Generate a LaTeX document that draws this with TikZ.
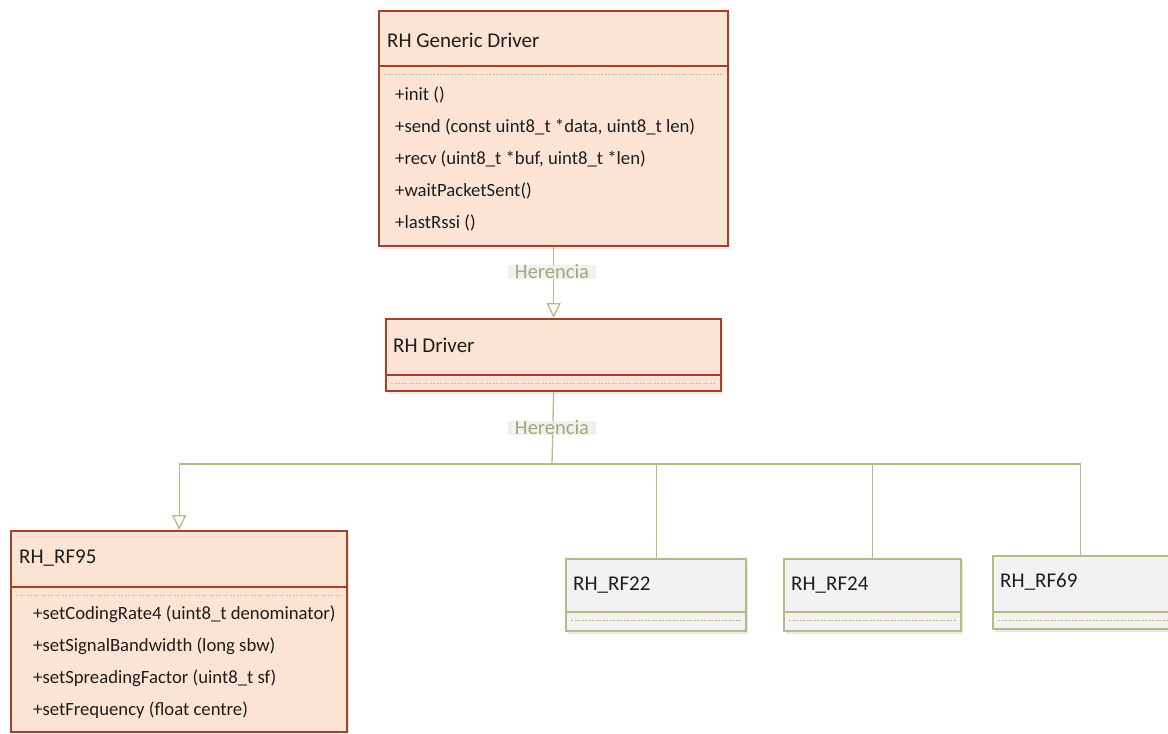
\documentclass[tikz,border=0pt]{standalone}
\usepackage{fontspec}
\setmainfont{Carlito}
\usetikzlibrary{arrows.meta,shadows}

\definecolor{peach}{HTML}{FBE4D3}
\definecolor{rust}{HTML}{A3412A}
\definecolor{peachdash}{HTML}{E0B48E}
\definecolor{khaki}{HTML}{BAB985}
\definecolor{palegray}{HTML}{F2F2F2}
\definecolor{ink}{HTML}{1E1E1E}

\tikzset{
  orangebox/.style={draw=rust, line width=2.3pt, fill=peach, anchor=north west, inner sep=0pt,
    drop shadow={opacity=0.18, shadow xshift=2pt, shadow yshift=-3pt}},
  graybox/.style={draw=khaki, line width=2.3pt, fill=palegray, anchor=north west, inner sep=0pt,
    drop shadow={opacity=0.18, shadow xshift=2pt, shadow yshift=-3pt}},
  classname/.style={anchor=west, inner sep=0pt, text=ink, font=\fontsize{21}{25}\selectfont},
  member/.style={anchor=west, inner sep=0pt, text=ink, font=\fontsize{18.7}{22}\selectfont},
  herencia/.style={fill=black!7, fill opacity=0.8, text opacity=1, text=khaki!90!black,
    font=\fontsize{20.5}{24}\selectfont, inner xsep=7pt, inner ysep=0pt},
  link/.style={draw=khaki, line width=1.3pt},
  inherit/.style={link, -{Triangle[open, length=15pt, width=14pt, fill=white]}},
}

\begin{document}
\begin{tikzpicture}[x=1pt, y=-1pt]
  % Canvas of the reference
  \useasboundingbox (0,0) rectangle (1168,734);

  % Class boxes
  \node[orangebox, minimum width=349pt, minimum height=235pt] (gen)  at (378,10)  {};
  \node[orangebox, minimum width=335pt, minimum height=72pt]  (drv)  at (385,318) {};
  \node[orangebox, minimum width=336pt, minimum height=201pt] (rf95) at (10,530)  {};
  \node[graybox,   minimum width=180pt, minimum height=72pt]  (rf22) at (565,558) {};
  \node[graybox,   minimum width=177pt, minimum height=72pt]  (rf24) at (783,558) {};
  \node[graybox,   minimum width=184pt, minimum height=73pt]  (rf69) at (992,555) {};

  % Compartment lines: solid divider, dashed line just under it
  \foreach \cls/\off/\edge/\dash in {gen/56/rust/peachdash, drv/57/rust/peachdash,
      rf95/57/rust/peachdash, rf22/54/khaki/khaki, rf24/54/khaki/khaki, rf69/57/khaki/khaki} {
    \draw[\edge, line width=2.3pt] ([yshift=-\off pt]\cls.north west) -- ([yshift=-\off pt]\cls.north east);
    \draw[\dash, line width=0.8pt, dash pattern=on 2pt off 1.5pt]
      ([xshift=6pt, yshift=-\off pt-8pt]\cls.north west) -- ([xshift=-6pt, yshift=-\off pt-8pt]\cls.north east);
  }

  % Class names
  \node[classname] (genname)  at (387,40)   {RH Generic Driver};
  \node[classname] (drvname)  at (393,345)  {RH Driver};
  \node[classname] (rf95name) at (19,558)   {RH\_RF95};
  \node[classname] (rf22name) at (573,585)  {RH\_RF22};
  \node[classname] (rf24name) at (791,585)  {RH\_RF24};
  \node[classname] (rf69name) at (1000,582) {RH\_RF69};

  % Members of RH Generic Driver
  \node[member] (m1) at (395,95)  {+init ()};
  \node[member] (m2) at (395,127) {+send (const uint8\_t *data, uint8\_t len)};
  \node[member] (m3) at (395,159) {+recv (uint8\_t *buf, uint8\_t *len)};
  \node[member] (m4) at (395,191) {+waitPacketSent()};
  \node[member] (m5) at (395,223) {+lastRssi ()};

  % Members of RH_RF95
  \node[member] (r1) at (33,614) {+setCodingRate4 (uint8\_t denominator)};
  \node[member] (r2) at (33,646) {+setSignalBandwidth (long sbw)};
  \node[member] (r3) at (33,678) {+setSpreadingFactor (uint8\_t sf)};
  \node[member] (r4) at (33,710) {+setFrequency (float centre)};

  % Inheritance connectors
  \coordinate (split) at (552,464);
  \draw[inherit] (gen.south) -- (drv.north);
  \draw[link] (drv.south) -- (split);
  \draw[inherit] (split) -| (rf95.north);
  \draw[link] (split) -| (rf22.north);
  \draw[link] (split) -| (rf24.north);
  \draw[link] (split) -| ([xshift=-5pt]rf69.north);

  % Connector labels
  \node[herencia] (her1) at (552,272) {Herencia};
  \node[herencia] (her2) at (552,428) {Herencia};
\end{tikzpicture}
\end{document}
